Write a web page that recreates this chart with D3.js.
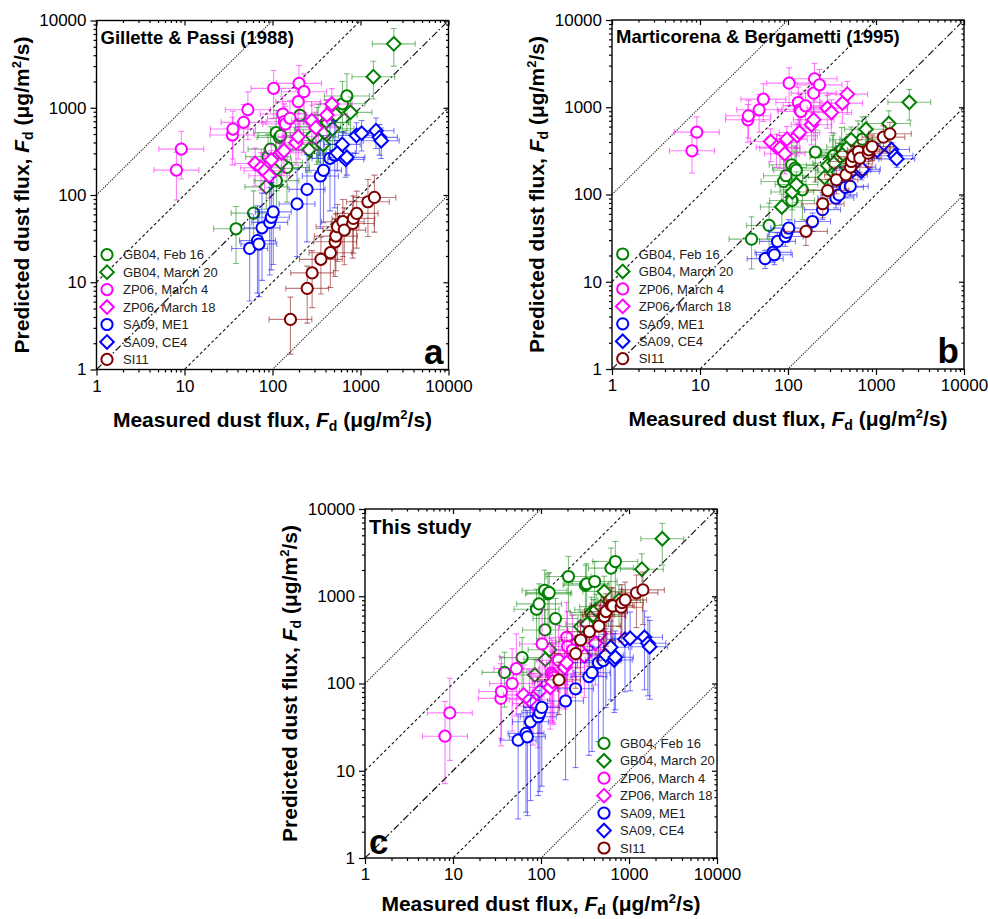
<!DOCTYPE html>
<html>
<head>
<meta charset="utf-8">
<script src="https://cdn.jsdelivr.net/npm/d3@7"></script>
<style>
body { margin: 0; background: #fff; }
svg text { font-family: "Liberation Sans", Arial, sans-serif; }
</style>
</head>
<body>
<svg id="chart" width="988" height="919"></svg>
<script>
// ---- data -------------------------------------------------------------
var seriesNames = ["GB04, Feb 16", "GB04, March 20", "ZP06, March 4", "ZP06, March 18",
                   "SA09, ME1", "SA09, CE4", "SI11"];

// measured dust flux (same in all three panels)
var gbFebX  = [38.5, 61, 89, 95, 110, 111, 120, 124, 146, 205, 320, 330, 407, 624, 700];
var gbMarX  = [85, 112, 125, 260, 283, 335, 375, 392, 423, 481, 523, 770, 1400, 2390];
var zpMar4X = [8.1, 9.2, 35, 35.5, 47, 52.5, 103, 131, 136, 140, 158, 196, 200, 228];
var zpMar18X= [63.5, 74, 81, 92, 97, 127, 135, 185, 196, 280, 311, 415, 472];
var saMe1X  = [55, 67.5, 70, 76, 93, 97, 102, 190, 247, 350, 380, 450, 510];
var saCe4X  = [545, 620, 680, 700, 900, 1030, 1500, 1640, 1720];
var si11X   = [160, 248, 282, 355, 455, 515, 525, 548, 630, 655, 815, 830, 905, 1215, 1440];

// predicted dust flux, panel a: Gillette & Passi (1988)
var gbFebA  = [41, 62, 275, 336, 518, 146, 458, 480, 207, 820, 560, 610, 680, 1110, 1365];
var gbMarA  = [124, 202, 235, 330, 474, 420, 380, 520, 674, 575, 830, 886, 2270, 5400];
var zpMar4A = [193, 336, 487, 570, 680, 950, 1668, 848, 692, 650, 756, 1175, 1905, 1528];
var zpMar18A= [230, 205, 190, 166, 252, 305, 322, 397, 466, 711, 591, 826, 1104];
var saMe1A  = [24.4, 30, 27.4, 42, 48.5, 55.5, 64, 79, 116, 165, 192, 263, 285];
var saCe4A  = [302, 380, 256, 270, 480, 510, 546, 458, 419];
var si11A   = [3.75, 8.5, 12.8, 18.3, 21.8, 29.1, 33.8, 43.3, 49.4, 39.6, 47.2, 53.9, 61.5, 83.7, 93.8];

// panel b: Marticorena & Bergametti (1995)
var gbFebB  = [30.8, 44.2, 141, 164, 219, 85.5, 201, 190, 113, 306, 265, 280, 325, 388, 431];
var gbMarB  = [72, 107, 130, 157, 215, 229, 180, 275, 290, 350, 424, 560, 650, 1140];
var zpMar4B = [317, 518, 718, 798, 935, 1238, 1888, 1134, 935, 894, 1038, 1450, 2118, 1806];
var zpMar18B= [405, 349, 340, 293, 431, 471, 514, 629, 718, 977, 871, 1114, 1413];
var saMe1B  = [18.4, 21.7, 20.4, 29, 33, 36.8, 41.2, 49, 67, 91, 99, 121, 124];
var saCe4B  = [190, 206, 184, 195, 311, 320, 328, 278, 256];
var si11B   = [37.8, 78.3, 111, 147.5, 168, 206, 239, 273, 311, 261, 298, 325, 355, 454, 496];

// panel c: this study
var gbFebC  = [134, 198, 710, 817, 1172, 411, 1065, 1100, 555, 1683, 1340, 1390, 1475, 2098, 2500];
var gbMarC  = [125, 189, 244, 300, 449, 480, 650, 611, 700, 760, 1132, 900, 2043, 4560];
var zpMar4C = [24.9, 46, 67.5, 81, 100, 148, 284, 131, 125, 118, 185, 339, 265, 242];
var zpMar18C= [74, 65, 59, 55, 82, 90, 105, 153, 173, 237, 207, 289, 370];
var saMe1C  = [22.4, 26.8, 24.5, 36.4, 41.6, 46.2, 53.2, 63, 87, 120, 133, 173, 183];
var saCe4C  = [212, 260, 186, 200, 321, 330, 339, 289, 264];
var si11C   = [110, 220, 315, 393, 455, 611, 585, 667, 788, 775, 748, 847, 908, 1094, 1183];

// typical error-bar extents (multiplicative), one per series
var xErrFactor = [1.8, 1.75, 1.8, 1.7, 1.6, 1.6, 1.75];
var yUpA   = [1.8, 1.5, 1.6, 1.5, 2.5, 1.4, 1.8];
var yDownA = [2.5, 1.8, 2.2, 1.8, 4.0, 1.6, 2.5];
var yUpB   = [1.8, 1.4, 1.5, 1.4, 1.25, 1.2, 1.35];
var yDownB = [2.2, 1.6, 1.8, 1.7, 1.3, 1.25, 1.45];
var yUpC   = [1.7, 1.5, 2.5, 2.2, 2.0, 2.0, 1.6];
var yDownC = [2.5, 2.0, 3.5, 3.0, 8.0, 4.0, 2.5];

var axisTicks = [1, 10, 100, 1000, 10000];

// ---- style -------------------------------------------------------------
var FONT = '"Liberation Sans", Arial, sans-serif';
var colors = ["#008000", "#008000", "#ff00ff", "#ff00ff", "#0000ff", "#0000ff", "#800000"];
var shapes = ["circle", "diamond", "circle", "diamond", "circle", "diamond", "circle"];
var xs = [gbFebX, gbMarX, zpMar4X, zpMar18X, saMe1X, saCe4X, si11X];

var W = 352, H = 349;
var panels = [
    {key: 'a', left: 96.5, top: 20.5, title: "Gillette & Passi (1988)", titleSize: 18.5, titleY: 23.5,
     ys: [gbFebA, gbMarA, zpMar4A, zpMar18A, saMe1A, saCe4A, si11A], up: yUpA, down: yDownA,
     legend: [107, 254.7], letterPos: 'right', xTitleY: 57},
    {key: 'b', left: 612, top: 20, title: "Marticorena & Bergametti (1995)", titleSize: 18.5, titleY: 23,
     ys: [gbFebB, gbMarB, zpMar4B, zpMar18B, saMe1B, saCe4B, si11B], up: yUpB, down: yDownB,
     legend: [622.7, 254], letterPos: 'right', xTitleY: 57},
    {key: 'c', left: 365, top: 509, title: "This study", titleSize: 20.5, titleY: 25,
     ys: [gbFebC, gbMarC, zpMar4C, zpMar18C, saMe1C, saCe4C, si11C], up: yUpC, down: yDownC,
     legend: [604, 743.3], letterPos: 'left', xTitleY: 53}
];

var svg = d3.select('#chart');

var minorTicks = [];
axisTicks.slice(0, 4).forEach(function(d){
    for (var k = 2; k < 10; k++) minorTicks.push(d * k);
});

function diamondPath(r){
    return "M0," + (-r) + "L" + r + ",0L0," + r + "L" + (-r) + ",0Z";
}

function drawMarker(sel, shape, color){
    if (shape === 'circle'){
        sel.append('circle').attr('r', 5.6)
            .attr('fill', '#fff').attr('stroke', color).attr('stroke-width', 2);
    } else {
        sel.append('path').attr('d', diamondPath(6.8))
            .attr('fill', '#fff').attr('stroke', color).attr('stroke-width', 2);
    }
}

function drawPanel(p){
    var g = svg.append('g').attr('transform', 'translate(' + p.left + ',' + p.top + ')');
    var x = d3.scaleLog().domain([1, 10000]).range([0, W]);
    var y = d3.scaleLog().domain([1, 10000]).range([H, 0]);

    var clipId = 'clip' + p.key;
    g.append('clipPath').attr('id', clipId)
        .append('rect').attr('width', W).attr('height', H);
    var plot = g.append('g').attr('clip-path', 'url(#' + clipId + ')');

    // 1:1, 1:10 and 1:100 lines
    var refs = [
        {r: 100, dash: '1.2,1.2', w: 1.1, c: '#222'},
        {r: 10, dash: '3,2.4', w: 1.1, c: '#111'},
        {r: 1, dash: '7,2.5,1.5,2.5', w: 1.2, c: '#111'},
        {r: 0.1, dash: '3,2.4', w: 1.1, c: '#111'},
        {r: 0.01, dash: '1.2,1.2', w: 1.1, c: '#222'}
    ];
    plot.selectAll('.ref').data(refs).enter().append('line')
        .attr('class', 'ref')
        .attr('x1', x(1)).attr('y1', function(d){ return y(d.r); })
        .attr('x2', x(10000)).attr('y2', function(d){ return y(d.r * 10000); })
        .attr('stroke', function(d){ return d.c; })
        .attr('stroke-width', function(d){ return d.w; })
        .attr('stroke-dasharray', function(d){ return d.dash; });

    // series: error bars then markers
    xs.forEach(function(sx, si){
        var pts = sx.map(function(v, i){ return {x: v, y: p.ys[si][i]}; });
        var xf = xErrFactor[si], yu = p.up[si], yd = p.down[si];
        var eb = plot.append('g')
            .attr('stroke', colors[si]).attr('stroke-opacity', 0.5).attr('stroke-width', 1.1);
        pts.forEach(function(d){
            var cx = x(d.x), cy = y(d.y);
            var xl = x(d.x / xf), xr = x(d.x * xf), yt = y(d.y * yu), yb = y(d.y / yd);
            eb.append('line').attr('x1', xl).attr('x2', xr).attr('y1', cy).attr('y2', cy);
            eb.append('line').attr('x1', xl).attr('x2', xl).attr('y1', cy - 3).attr('y2', cy + 3);
            eb.append('line').attr('x1', xr).attr('x2', xr).attr('y1', cy - 3).attr('y2', cy + 3);
            eb.append('line').attr('x1', cx).attr('x2', cx).attr('y1', yt).attr('y2', yb);
            eb.append('line').attr('x1', cx - 3).attr('x2', cx + 3).attr('y1', yt).attr('y2', yt);
            eb.append('line').attr('x1', cx - 3).attr('x2', cx + 3).attr('y1', yb).attr('y2', yb);
        });
        plot.append('g').selectAll('g').data(pts).enter().append('g')
            .attr('transform', function(d){ return 'translate(' + x(d.x) + ',' + y(d.y) + ')'; })
            .each(function(){ drawMarker(d3.select(this), shapes[si], colors[si]); });
    });

    // axes
    var fmt = d3.format('d');
    function addAxis(axisFn, scale, tr, labels, size){
        var a = axisFn(scale).tickValues(axisTicks).tickSizeInner(size).tickSizeOuter(0)
            .tickPadding(labels ? 4 : 0).tickFormat(labels ? fmt : '');
        var m = axisFn(scale).tickValues(minorTicks).tickSizeInner(size / 2).tickSizeOuter(0).tickFormat('');
        var ga = g.append('g').attr('transform', tr).call(a);
        var gm = g.append('g').attr('transform', tr).call(m);
        [ga, gm].forEach(function(s){
            s.attr('font-family', FONT).attr('font-size', 17);
            s.select('.domain').remove();
            s.selectAll('line').attr('stroke', '#000').attr('stroke-width', 1.2);
        });
        ga.selectAll('text').attr('fill', '#000')
            .style('font-family', FONT).style('font-size', '17px');
    }
    addAxis(d3.axisBottom, x, 'translate(0,' + H + ')', true, 6);
    addAxis(d3.axisLeft, y, 'translate(0,0)', true, 6);
    addAxis(d3.axisBottom, x, 'translate(0,0)', false, 5);
    addAxis(d3.axisLeft, y, 'translate(' + W + ',0)', false, 5);

    g.append('rect').attr('width', W).attr('height', H)
        .attr('fill', 'none').attr('stroke', '#000').attr('stroke-width', 1.4);

    // panel title and letter
    g.append('text').attr('x', 4).attr('y', p.titleY)
        .style('font-size', p.titleSize + 'px').attr('font-weight', 'bold').text(p.title);
    var lt = g.append('text').style('font-size', '35px').attr('font-weight', 'bold').text(p.key);
    if (p.letterPos === 'right') lt.attr('x', W - 5).attr('y', H - 6).attr('text-anchor', 'end');
    else lt.attr('x', 4).attr('y', H - 4);

    // axis titles
    var xt = g.append('text').attr('x', W / 2).attr('y', H + p.xTitleY)
        .attr('text-anchor', 'middle').style('font-size', '21px').attr('font-weight', 'bold');
    axisTitle(xt, false);
    var yt = g.append('text')
        .attr('transform', 'translate(' + (-68) + ',' + (H / 2) + ') rotate(-90)')
        .attr('text-anchor', 'middle').style('font-size', '21px').attr('font-weight', 'bold');
    axisTitle(yt, true);

    // legend
    var lg = svg.append('g');
    seriesNames.forEach(function(name, si){
        var ly = p.legend[1] + si * 17.45;
        var mk = lg.append('g').attr('transform', 'translate(' + p.legend[0] + ',' + ly + ')');
        drawMarker(mk, shapes[si], colors[si]);
        lg.append('text').attr('x', p.legend[0] + 16).attr('y', ly + 4.7)
            .style('font-size', '13px').attr('fill', '#222').text(name);
    });
}

function axisTitle(t, predicted){
    t.append('tspan').text(predicted ? 'Predicted dust flux, ' : 'Measured dust flux, ');
    t.append('tspan').attr('font-style', 'italic').text('F');
    t.append('tspan').style('font-size', '14px').attr('dy', 4).text('d');
    t.append('tspan').attr('dy', -4).text(' (\u03bcg/m');
    t.append('tspan').style('font-size', '13px').attr('dy', -8).text('2');
    t.append('tspan').attr('dy', 8).text('/s)');
}

panels.forEach(drawPanel);
</script>
</body>
</html>
